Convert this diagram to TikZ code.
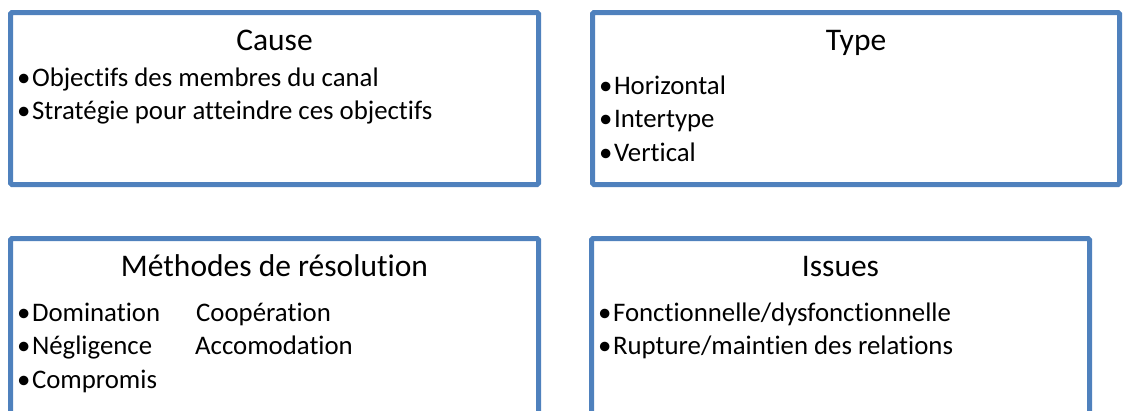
\documentclass[tikz,border=0pt]{standalone}
\usepackage{fontspec}
\setmainfont{Carlito}[Ligatures=NoCommon]
\definecolor{bleucadre}{RGB}{79,129,189}

\newcommand{\pt}{•\kern1.5pt}

\tikzset{
  cadre/.style={draw=bleucadre, line width=5pt, rounded corners=1.5pt},
  titre/.style={anchor=base, inner sep=0pt, font=\fontsize{31.5}{37}\selectfont},
  puce/.style={anchor=base west, inner sep=0pt, font=\fontsize{26.8}{33}\selectfont}
}

\begin{document}
\begin{tikzpicture}[x=1pt, y=-1pt]

\useasboundingbox (0,0) rectangle (1134,410);
\clip (0,0) rectangle (1134,410);

\coordinate (A1) at (10.5,12.5);
\coordinate (B1) at (538.5,184.5);
\coordinate (A2) at (592.5,12.5);
\coordinate (B2) at (1119.5,184.5);
\coordinate (A3) at (10.5,238.5);
\coordinate (B3) at (538.5,440);
\coordinate (A4) at (591.5,238.5);
\coordinate (B4) at (1089.5,440);

\draw[cadre] (A1) rectangle (B1);
\draw[cadre] (A2) rectangle (B2);
\draw[cadre] (A3) rectangle (B3);
\draw[cadre] (A4) rectangle (B4);

\node[titre] (cause) at (274.5,50) {Cause};
\node[puce] (cause1) at (17,86.5) {\pt Objectifs des membres du canal};
\node[puce] (cause2) at (17,119.5) {\pt Stratégie pour atteindre ces objectifs};

\node[titre] (type) at (856,50) {Type};
\node[puce] (type1) at (599,94) {\pt Horizontal};
\node[puce] (type2) at (599,127.5) {\pt Intertype};
\node[puce] (type3) at (599,161) {\pt Vertical};

\node[titre] (methodes) at (274.5,276) {Méthodes de résolution};
\node[puce] (meth1) at (17,321) {\pt Domination};
\node[puce] (meth2) at (17,354.5) {\pt Négligence};
\node[puce] (meth3) at (17,388.5) {\pt Compromis};
\node[puce] (meth4) at (196,321) {Coopération};
\node[puce] (meth5) at (195,354.5) {Accomodation};

\node[titre] (issues) at (840.5,276) {Issues};
\node[puce] (issue1) at (598,321) {\pt Fonctionnelle/dysfonctionnelle};
\node[puce] (issue2) at (598,354.5) {\pt Rupture/maintien des relations};

\end{tikzpicture}
\end{document}
